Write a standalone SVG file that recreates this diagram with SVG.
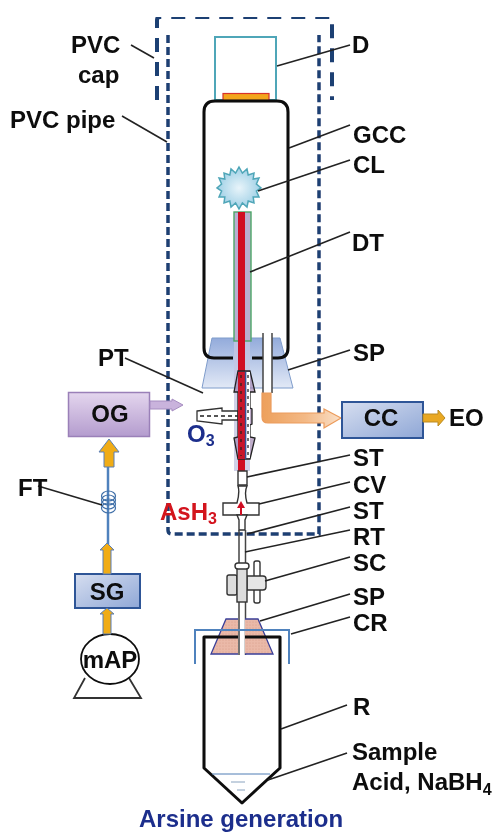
<svg xmlns="http://www.w3.org/2000/svg" width="495" height="832" viewBox="0 0 495 832">
<style>
text{font-family:"Liberation Sans",Arial,sans-serif;font-weight:bold;font-size:24px;fill:#0b0b0b}
.lead{stroke:#222;stroke-width:1.6;fill:none}
.dash{stroke:#1f3f73;fill:none}
.blk{stroke:#0b0b0b;stroke-width:3;fill:none;stroke-linejoin:round}
.fit{fill:#fff;stroke:#333;stroke-width:1.4}
</style>
<defs>
<linearGradient id="gb" x1="0" y1="0" x2="1" y2="1"><stop offset="0" stop-color="#d6def0"/><stop offset="1" stop-color="#8fa7d6"/></linearGradient>
<linearGradient id="gp" x1="0" y1="0" x2="0" y2="1"><stop offset="0" stop-color="#e4d6ee"/><stop offset="1" stop-color="#b49cce"/></linearGradient>
<linearGradient id="gs" x1="0" y1="0" x2="0" y2="1"><stop offset="0" stop-color="#93abdb"/><stop offset="1" stop-color="#e2e9f6"/></linearGradient>
<linearGradient id="go" x1="0" y1="0" x2="1" y2="0"><stop offset="0" stop-color="#eda05c"/><stop offset=".55" stop-color="#f3b986"/><stop offset="1" stop-color="#fae0c8"/></linearGradient>
<radialGradient id="gc"><stop offset="0" stop-color="#e8f4fa"/><stop offset="1" stop-color="#9fd0e6"/></radialGradient>
<pattern id="hatch" width="3" height="3" patternUnits="userSpaceOnUse"><rect width="3" height="3" fill="#eab9a8"/><circle cx="1" cy="1" r=".6" fill="#d79a88"/></pattern>
<filter id="soft" x="0" y="0" width="100%" height="100%"><feGaussianBlur stdDeviation="0.45"/></filter>
</defs>
<g filter="url(#soft)">
<g id="pvc-cap"><path class="dash" stroke-width="4" stroke-dasharray="14 10" d="M157,100V20Q157,17 160,17H332V100"/></g>
<g id="pvc-pipe"><path class="dash" stroke-width="3.500" stroke-dasharray="8 4" d="M168,35V530Q168,534 172,534H319V35"/></g>

<g id="detector">
<rect x="215" y="37" width="61" height="63" fill="#fff" stroke="#4fa6b8" stroke-width="2"/>
<rect x="223" y="93.500" width="46" height="7" fill="#f3a51f" stroke="#d8322a" stroke-width="1.200"/>
</g>

<g id="stopper-top"><path d="M212,338H280L293,388H202Z" fill="url(#gs)" stroke="#7f9ccb" stroke-width="1"/></g>

<g id="gcc">
<path class="blk" d="M233,358H214Q204,358 204,348V112Q204,101 215,101H277Q288,101 288,112V348Q288,358 278,358H272M263,358H252"/>
</g>

<g id="cl"><polygon fill="url(#gc)" stroke="#4fa6b8" stroke-width="1.500" points="239,167 242.400,173 247,169 248.200,175 254,173 253.200,179 259,178 256.400,184 261,188 256.400,191 259,197 253.200,197 254,203 248.200,201 247,207 242.400,203 239,209 235.600,203 231,207 229.800,201 224,203 224.800,197 219,197 221.600,191 217,188 221.600,184 219,178 224.800,179 224,173 229.800,175 231,169 235.600,173"/></g>

<g id="dt">
<rect x="234" y="341" width="16" height="130" fill="#c4c6e2" opacity=".8"/>
<rect x="234" y="212" width="17" height="129" fill="#b9aed0" stroke="#4da567" stroke-width="1.400"/>
<rect x="238" y="212" width="7" height="263" fill="#d00f22"/>
</g>

<g id="tee">
<path d="M197,411L222,408V411H238V420H222V424L197,421Z" fill="#fff" stroke="#333" stroke-width="1.300"/>
<path d="M200,416H238" stroke="#555" stroke-width="2" stroke-dasharray="4 3"/>
<path d="M238,371H250L255,392H250V408L252,409V424L250,425V437L255,438L250,459H238L234,438L238,437V392H234Z" fill="#9c7fae" fill-opacity=".65" stroke="#222" stroke-width="1.300"/>
<rect x="238" y="372" width="7" height="87" fill="#c8142a"/>
<rect x="246.500" y="372" width="3.500" height="86" fill="#fff"/>
<path d="M245.500,372V459" stroke="#2f5597" stroke-width="1.300"/>
<path d="M248,375V456" stroke="#333" stroke-width="1.400" stroke-dasharray="3 4"/>
<path d="M241,375V456" stroke="#222" stroke-width="1.200" stroke-dasharray="3 5"/>
</g>

<g id="side-tube"><path d="M263,333V393H272V333Z" fill="#fff"/><path d="M263,333V393M272,333V393" stroke="#444" stroke-width="1.500" fill="none"/></g>

<g id="flow-out"><path d="M262,393H271V413H324V409L341,418L324,428V423H268Q262,423 262,417Z" fill="url(#go)" stroke="#ec9c5c" stroke-width="1.200"/></g>

<g id="og">
<rect x="68.500" y="392.500" width="81" height="44" fill="url(#gp)" stroke="#9a80b8" stroke-width="1.500"/>
<path d="M150,401H172V399L183,405L172,411V409H150Z" fill="#c9b3dc" stroke="#a58cc0"/>
<text x="110" y="422" text-anchor="middle">OG</text>
</g>
<g id="cc">
<rect x="342" y="402" width="81" height="36" fill="url(#gb)" stroke="#2f5597" stroke-width="2"/>
<path d="M423,414H438V410L445,418L438,426V422H423Z" fill="#e9a820" stroke="#b98a20"/>
<text x="381" y="426" text-anchor="middle">CC</text>
</g>

<g id="st-cv">
<path d="M238,471H247V485H238Z" class="fit"/>
<path d="M238,486Q240,492 237,503H223V515H259V503H247Q244,492 247,486Z" class="fit"/>
<path d="M237,515L239,520V530H245V520L247,515Z" class="fit"/>
<path d="M241,515V504" stroke="#d00f22" stroke-width="2"/>
<path d="M237,508L241,501L245,508Z" fill="#d00f22"/>
</g>

<g id="rt"><path d="M239,530V655M245.500,530V655" stroke="#444" stroke-width="1.500" fill="none"/></g>

<g id="sc">
<rect x="254" y="561" width="6" height="42" rx="2" class="fit"/>
<path d="M247,576H263Q266,576 266,579V587Q266,590 263,590H247Z" fill="#e6e6e6" stroke="#333" stroke-width="1.400"/>
<rect x="227" y="575" width="10" height="20" rx="2" fill="#ddd" stroke="#333" stroke-width="1.400"/>
<rect x="237" y="566" width="10" height="36" fill="#ddd" stroke="#333" stroke-width="1.400"/>
<rect x="235" y="563" width="14" height="6" rx="3" class="fit"/>
</g>

<g id="sp-bottom"><path d="M226,619H238V654H211ZM245,619H258L273,654H245Z" fill="url(#hatch)"/><path d="M238,619H226L211,654H238M245,654H273L258,619H245" fill="none" stroke="#3a3f98" stroke-width="1.300"/></g>

<g id="reactor">
<path class="blk" d="M238,637H204V768L242,803L280,768V637H245"/>
<path d="M212,774H270" stroke="#4f7fb5" stroke-width="1"/>
<path d="M231,782H245M237,790H245" stroke="#8aa3bf" stroke-width="1"/>
</g>
<g id="cr"><path d="M195,664V630H289V664" fill="none" stroke="#4f82bd" stroke-width="2"/></g>

<g id="ft">
<path d="M108,467V545" stroke="#4f82bd" stroke-width="2.500"/>
<ellipse cx="108.500" cy="496" rx="7" ry="5" fill="none" stroke="#3f6fa8" stroke-width="1.200"/>
<ellipse cx="108.500" cy="500" rx="7" ry="5" fill="none" stroke="#3f6fa8" stroke-width="1.200"/>
<ellipse cx="108.500" cy="504" rx="7" ry="5" fill="none" stroke="#3f6fa8" stroke-width="1.200"/>
<ellipse cx="108.500" cy="508" rx="7" ry="5" fill="none" stroke="#3f6fa8" stroke-width="1.200"/>
</g>
<g id="sg">
<rect x="75" y="574" width="65" height="34" fill="url(#gb)" stroke="#2f5597" stroke-width="2"/>
<text x="107" y="600" text-anchor="middle">SG</text>
</g>
<g id="map">
<path d="M85,678L74,698H141L129,678" fill="none" stroke="#333" stroke-width="1.800"/>
<ellipse cx="110" cy="659" rx="29" ry="25" fill="#fff" stroke="#0b0b0b" stroke-width="1.800"/>
<text x="110" y="668" text-anchor="middle">mAP</text>
</g>

<g id="connectors">
<path d="M104,467V452H99L109,439L119,452H114V467Z" fill="#f0ac14" stroke="#5a7fb5" stroke-width="1"/>
<path d="M103,574V550H100L107,543L114,550H111V574Z" fill="#f0ac14" stroke="#5a7fb5" stroke-width="1"/>
<path d="M103,634V614H100L107,608L114,614H111V634Z" fill="#f0ac14" stroke="#5a7fb5" stroke-width="1"/>
<path class="lead" d="M154,58L131,45M167,142L122,116M277,66L350,45M289,148L350,125M258,191L350,160M250,272L350,232M288,370L350,350M203,393L125,358M247,477L350,455M259,504L350,482M247,534L350,507M245,552L350,530M265,581L350,557M260,621L350,594M291,634L350,617M281,729L347,705M268,780L347,753M102,505L38,486"/>
</g>

<g id="labels">
<text x="71" y="53">PVC</text>
<text x="78" y="83">cap</text>
<text x="10" y="128">PVC pipe</text>
<text x="352" y="53">D</text>
<text x="353" y="143">GCC</text>
<text x="353" y="173">CL</text>
<text x="352" y="251">DT</text>
<text x="353" y="361">SP</text>
<text x="98" y="366">PT</text>
<text x="449" y="426">EO</text>
<text x="187" y="442" style="fill:#1c2f8c">O<tspan dy="4" font-size="16">3</tspan></text>
<text x="353" y="466">ST</text>
<text x="353" y="493">CV</text>
<text x="353" y="519">ST</text>
<text x="353" y="545">RT</text>
<text x="353" y="571">SC</text>
<text x="353" y="605">SP</text>
<text x="353" y="631">CR</text>
<text x="353" y="715">R</text>
<text x="352" y="760">Sample</text>
<text x="352" y="790">Acid, NaBH<tspan dy="5" font-size="16">4</tspan></text>
<text x="18" y="496">FT</text>
<text x="160" y="520" style="fill:#d3121f">AsH<tspan dy="4" font-size="16">3</tspan></text>
<text x="139" y="827" style="fill:#1c2f8c">Arsine generation</text>
</g>
</g>
</svg>
